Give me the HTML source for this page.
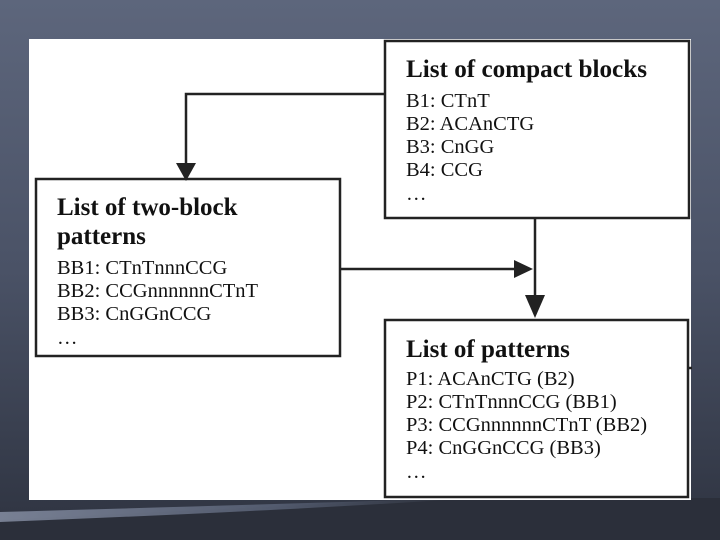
<!DOCTYPE html>
<html><head><style>
body{margin:0;width:720px;height:540px;overflow:hidden;background:linear-gradient(180deg,#5d667c 0%,#4a5266 50%,#2e3340 100%);}
svg{position:absolute;left:0;top:0}
text{font-family:"Liberation Serif",serif;fill:#111}
.t{font-weight:bold;font-size:25px}
.i{font-size:20.5px}
</style></head><body>
<svg width="720" height="540">
<defs><linearGradient id="g" x1="0" y1="0" x2="1" y2="0"><stop offset="0" stop-color="#8a93a8"/><stop offset="0.6" stop-color="#5b6479"/><stop offset="1" stop-color="#2a2e38"/></linearGradient></defs>
<path d="M0 520 Q300 505 460 498 L720 498 L720 540 L0 540Z" fill="#2b2f3a"/>
<path d="M0 512 Q250 505 440 499 L460 499 Q300 510 0 522Z" fill="url(#g)" opacity="0.8"/>
<rect x="29" y="39" width="662" height="461" fill="#fff"/>
<g fill="none" stroke="#222" stroke-width="2.5">
<rect x="385" y="41" width="304" height="177"/>
<rect x="36" y="179" width="304" height="177"/>
<rect x="385" y="320" width="303" height="177"/>
<path d="M385 94 H186 V168"/>
<path d="M535 218 V300"/>
<path d="M340 269 H520"/>
<path d="M688 368 H692"/>
</g>
<g fill="#222">
<path d="M176 163 L196 163 L186 181Z"/>
<path d="M525 295 L545 295 L535 318Z"/>
<path d="M514 260 L514 278 L533 269Z"/>
</g>
<text class="t" x="406" y="77" textLength="241" lengthAdjust="spacingAndGlyphs">List of compact blocks</text>
<text class="i" x="406" y="107">B1: CTnT</text>
<text class="i" x="406" y="130">B2: ACAnCTG</text>
<text class="i" x="406" y="153">B3: CnGG</text>
<text class="i" x="406" y="176">B4: CCG</text>
<text class="i" x="406" y="200">…</text>
<text class="t" x="57" y="215">List of two-block</text>
<text class="t" x="57" y="244">patterns</text>
<text class="i" x="57" y="274">BB1: CTnTnnnCCG</text>
<text class="i" x="57" y="297">BB2: CCGnnnnnnCTnT</text>
<text class="i" x="57" y="320">BB3: CnGGnCCG</text>
<text class="i" x="57" y="344">…</text>
<text class="t" x="406" y="357">List of patterns</text>
<text class="i" x="406" y="385">P1: ACAnCTG (B2)</text>
<text class="i" x="406" y="408">P2: CTnTnnnCCG (BB1)</text>
<text class="i" x="406" y="431">P3: CCGnnnnnnCTnT (BB2)</text>
<text class="i" x="406" y="454">P4: CnGGnCCG (BB3)</text>
<text class="i" x="406" y="478">…</text>
</svg>
</body></html>
